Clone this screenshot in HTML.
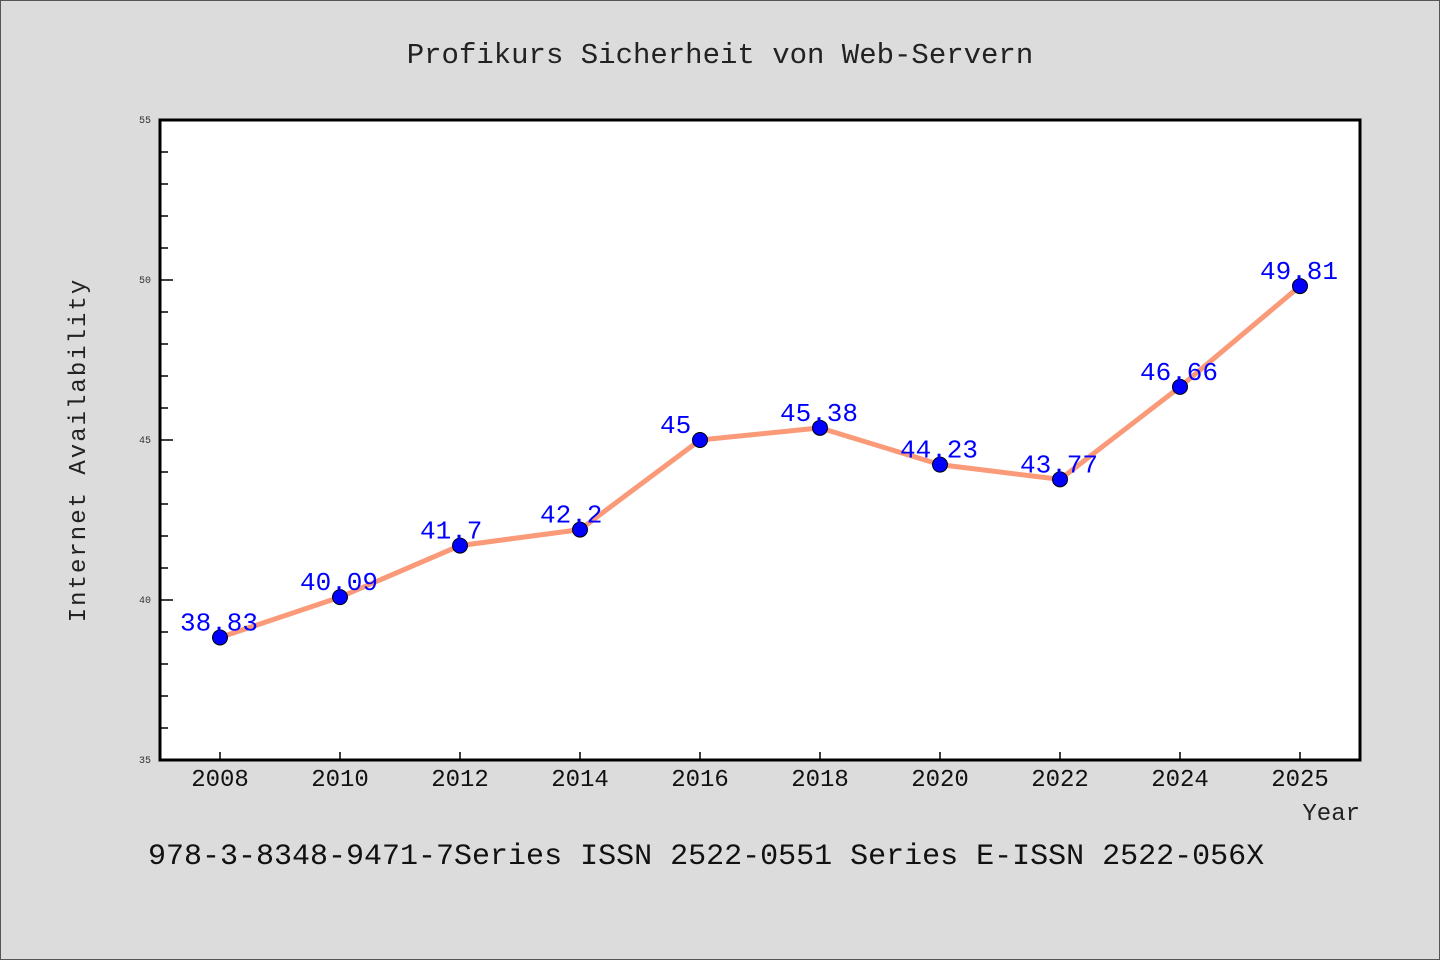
<!DOCTYPE html>
<html><head><meta charset="utf-8"><style>
body{margin:0;background:#dcdcdc;}
svg{display:block;font-family:"WenQuanYi Zen Hei","Liberation Mono",monospace;}
</style></head><body>
<svg id="c" width="1440" height="960">
<rect x="0.5" y="0.5" width="1439" height="959" fill="#dcdcdc" stroke="#555"/>
<text x="720" y="63" font-size="29" text-anchor="middle" fill="#222">Profikurs Sicherheit von Web-Servern</text>
<rect x="160" y="120" width="1200" height="640" fill="#fff" stroke="#000" stroke-width="3"/>
<g id="ticks"></g>
<g id="marks"></g>
<text transform="translate(85,450) rotate(-90)" font-size="24" text-anchor="middle" fill="#222" letter-spacing="2">Internet Availability</text>
<text x="1360" y="820" font-size="24" text-anchor="end" fill="#222">Year</text>
<text x="148" y="864" font-size="30" fill="#111">978-3-8348-9471-7Series ISSN 2522-0551 Series E-ISSN 2522-056X</text>
</svg>
<script>
const categories=["2008","2010","2012","2014","2016","2018","2020","2022","2024","2025"];
const values=[38.83,40.09,41.7,42.2,45,45.38,44.23,43.77,46.66,49.81];
const labels=["38.83","40.09","41.7","42.2","45","45.38","44.23","43.77","46.66","49.81"];
const yTicks=[35,40,45,50,55];
const NS="http://www.w3.org/2000/svg";
const yMin=35,yMax=55,plotTop=120,plotBot=760;
const ys=v=>plotBot-(v-yMin)/(yMax-yMin)*(plotBot-plotTop);
const xs=i=>220+i*120;
function mk(t,a,p){const e=document.createElementNS(NS,t);for(const k in a)e.setAttribute(k,a[k]);p.appendChild(e);return e;}
const tg=document.getElementById('ticks'),mg=document.getElementById('marks');
for(let v=yMin;v<=yMax;v++){
  const major=yTicks.includes(v);
  const l=mk('line',{x1:160,x2:major?173:168,y1:ys(v),y2:ys(v),stroke:'#000','stroke-width':1.5},tg);
  
  
}
yTicks.forEach(v=>{
  const t=mk('text',{x:151,y:ys(v)+3,'font-size':10,'text-anchor':'end',fill:'#333'},tg);
  t.textContent=v;
  
  
});
categories.forEach((c,i)=>{
  const l=mk('line',{x1:xs(i),x2:xs(i),y1:plotBot,y2:plotBot-8,stroke:'#000','stroke-width':1.5},tg);
  
  
  const t=mk('text',{x:xs(i),y:786,'font-size':24,'text-anchor':'middle',fill:'#111'},tg);
  t.textContent=c;
  
  
});
const line=mk('polyline',{points:values.map((v,i)=>xs(i)+','+ys(v)).join(' '),fill:'none',stroke:'#fa9a78','stroke-width':5,'stroke-linejoin':'round'},mg);


values.forEach((v,i)=>{
  const c=mk('circle',{cx:xs(i),cy:ys(v),r:7.5,fill:'#0000ff',stroke:'#000','stroke-width':1},mg);
  
  
});
values.forEach((v,i)=>{
  const t=mk('text',{x:xs(i)-40,y:ys(v)-7,'font-size':26,fill:'#0000ff','text-anchor':'start'},mg);
  t.textContent=labels[i];
  
  
});
</script>
</body></html>
